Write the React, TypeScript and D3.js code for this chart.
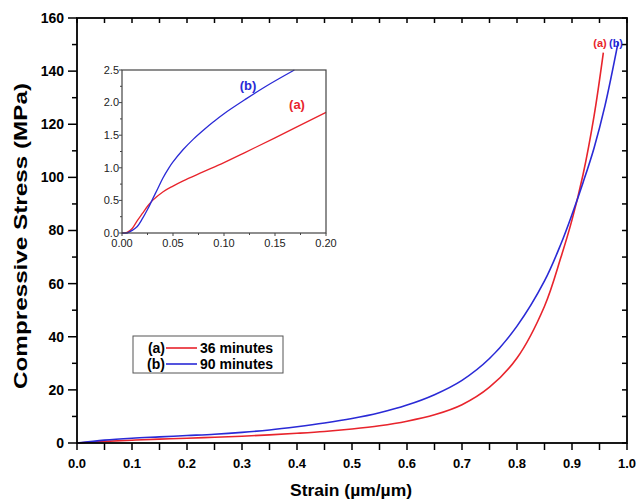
import React from 'react';
import { scaleLinear, line, curveCatmullRom, range } from 'd3';

// main curves
const strainA = [0, 0.05, 0.1, 0.15, 0.2, 0.25, 0.3, 0.35, 0.4, 0.45, 0.5, 0.55, 0.6, 0.65, 0.7, 0.75, 0.8, 0.85, 0.88, 0.9, 0.92, 0.94, 0.957];
const stressA = [0, 0.6, 1.05, 1.45, 1.8, 2.15, 2.55, 3.05, 3.65, 4.35, 5.3, 6.5, 8.2, 10.6, 14.4, 21, 32, 51.5, 70, 84, 101, 123, 147];
const strainB = [0, 0.05, 0.1, 0.15, 0.2, 0.25, 0.3, 0.35, 0.4, 0.45, 0.5, 0.55, 0.6, 0.65, 0.7, 0.75, 0.8, 0.85, 0.88, 0.9, 0.92, 0.94, 0.96, 0.984];
const stressB = [0, 1.1, 1.8, 2.3, 2.8, 3.3, 4.0, 4.9, 6.1, 7.5, 9.2, 11.4, 14.3, 18.2, 23.6, 31.8, 44, 61, 75, 86, 98, 111, 127, 151];

// inset (low strain zoom)
const insetStrainA = [0, 0.005, 0.01, 0.015, 0.02, 0.025, 0.03, 0.04, 0.05, 0.06, 0.08, 0.1, 0.12, 0.15, 0.2];
const insetStressA = [0, 0.01, 0.07, 0.19, 0.3, 0.41, 0.5, 0.63, 0.72, 0.8, 0.94, 1.08, 1.23, 1.46, 1.85];
const insetStrainB = [0, 0.005, 0.01, 0.015, 0.02, 0.025, 0.03, 0.035, 0.04, 0.046, 0.05, 0.06, 0.07, 0.08, 0.09, 0.1, 0.12, 0.14, 0.169];
const insetStressB = [0, 0, 0.04, 0.1, 0.22, 0.36, 0.52, 0.68, 0.84, 1.0, 1.09, 1.28, 1.44, 1.58, 1.71, 1.83, 2.04, 2.24, 2.5];

const legendLabels = ['(a)', '(b)'];
const legendNames = ['36 minutes', '90 minutes'];

const red = '#e8242c';
const blue = '#2a2ad6';
const font = 'Liberation Sans, Arial, sans-serif';

const width = 639;
const height = 502;
const frame = { left: 77, right: 627, top: 18, bottom: 443 };
const inset = { left: 122, right: 326, top: 70, bottom: 233 };

function App() {
	const x = scaleLinear().domain([0, 1]).range([frame.left, frame.right]);
	const y = scaleLinear().domain([0, 160]).range([frame.bottom, frame.top]);
	const ix = scaleLinear().domain([0, 0.2]).range([inset.left, inset.right]);
	const iy = scaleLinear().domain([0, 2.5]).range([inset.bottom, inset.top]);

	const mainLine = (xs: number[], ys: number[]) =>
		line<number>()
			.x((d, i) => x(xs[i]))
			.y((d) => y(d))
			.curve(curveCatmullRom.alpha(0.5))(ys);
	const insetLine = (xs: number[], ys: number[]) =>
		line<number>()
			.x((d, i) => ix(xs[i]))
			.y((d) => iy(d))
			.curve(curveCatmullRom.alpha(0.5))(ys);

	const xMajor = range(0, 11).map((i) => i / 10);
	const xMinor = range(0, 21).map((i) => i / 20);
	const yMajor = range(0, 9).map((i) => i * 20);
	const yMinor = range(0, 17).map((i) => i * 10);

	const ixMajor = range(0, 5).map((i) => i * 0.05);
	const ixMinor = range(0, 9).map((i) => i * 0.025);
	const iyMajor = range(0, 6).map((i) => i * 0.5);
	const iyMinor = range(0, 11).map((i) => i * 0.25);

	return (
		<svg
			width={width}
			height={height}
			style={{ position: 'absolute', left: 0, top: 0, background: '#fff' }}
			fontFamily={font}
		>
			{/* main curves */}
			<path d={mainLine(strainA, stressA) || ''} fill="none" stroke={red} strokeWidth={1.6} />
			<path d={mainLine(strainB, stressB) || ''} fill="none" stroke={blue} strokeWidth={1.6} />

			{/* frame */}
			<rect
				x={frame.left}
				y={frame.top}
				width={frame.right - frame.left}
				height={frame.bottom - frame.top}
				fill="none"
				stroke="#000"
				strokeWidth={1.8}
			/>

			{/* bottom + top ticks */}
			{xMinor.map((t) => (
				<g key={'xm' + t}>
					<line x1={x(t)} x2={x(t)} y1={frame.bottom} y2={frame.bottom + 7} stroke="#000" strokeWidth={1.5} />
					<line x1={x(t)} x2={x(t)} y1={frame.top} y2={frame.top + 5} stroke="#000" strokeWidth={1.5} />
				</g>
			))}
			{xMajor.map((t) => (
				<text
					key={'xl' + t}
					x={x(t)}
					y={468}
					textAnchor="middle"
					fontSize={13}
					fontWeight="bold"
				>
					{t.toFixed(1)}
				</text>
			))}

			{/* left + right ticks */}
			{yMinor.map((t) => (
				<g key={'ym' + t}>
					<line
						x1={frame.left}
						x2={frame.left - (t % 20 === 0 ? 9 : 5)}
						y1={y(t)}
						y2={y(t)}
						stroke="#000"
						strokeWidth={1.5}
					/>
					<line x1={frame.right} x2={frame.right - 5} y1={y(t)} y2={y(t)} stroke="#000" strokeWidth={1.5} />
				</g>
			))}
			{yMajor.map((t) => (
				<text
					key={'yl' + t}
					x={64}
					y={y(t)}
					dy="0.35em"
					textAnchor="end"
					fontSize={14}
					fontWeight="bold"
				>
					{t}
				</text>
			))}

			{/* axis titles */}
			<text
				x={351}
				y={496}
				textAnchor="middle"
				fontSize={16}
				fontWeight="bold"
				textLength={122}
				lengthAdjust="spacingAndGlyphs"
			>
				Strain (µm/µm)
			</text>
			<text
				transform={`translate(27, 236) rotate(-90)`}
				textAnchor="middle"
				fontSize={19}
				fontWeight="bold"
				textLength={306}
				lengthAdjust="spacingAndGlyphs"
			>
				Compressive Stress (MPa)
			</text>

			{/* end labels */}
			<text x={600} y={47} textAnchor="middle" fontSize={11} fontWeight="bold" fill={red}>
				(a)
			</text>
			<text x={616} y={47} textAnchor="middle" fontSize={11} fontWeight="bold" fill={blue}>
				(b)
			</text>

			{/* inset */}
			<path d={insetLine(insetStrainA, insetStressA) || ''} fill="none" stroke={red} strokeWidth={1.3} />
			<path d={insetLine(insetStrainB, insetStressB) || ''} fill="none" stroke={blue} strokeWidth={1.3} />
			<rect
				x={inset.left}
				y={inset.top}
				width={inset.right - inset.left}
				height={inset.bottom - inset.top}
				fill="none"
				stroke="#444"
				strokeWidth={1.2}
			/>
			{ixMinor.map((t, i) => (
				<line
					key={'ixm' + i}
					x1={ix(t)}
					x2={ix(t)}
					y1={inset.bottom}
					y2={inset.bottom + (i % 2 ? 2 : 3)}
					stroke="#444"
				/>
			))}
			{iyMinor.map((t, i) => (
				<line
					key={'iym' + i}
					x1={inset.left}
					x2={inset.left - (i % 2 ? 2 : 3)}
					y1={iy(t)}
					y2={iy(t)}
					stroke="#444"
				/>
			))}
			{ixMajor.map((t) => (
				<text key={'ixl' + t} x={ix(t)} y={247} textAnchor="middle" fontSize={11} fill="#222">
					{t.toFixed(2)}
				</text>
			))}
			{iyMajor.map((t) => (
				<text
					key={'iyl' + t}
					x={inset.left - 3}
					y={iy(t)}
					dy="0.35em"
					textAnchor="end"
					fontSize={11}
					fill="#222"
				>
					{t.toFixed(1)}
				</text>
			))}
			<text x={248} y={90} textAnchor="middle" fontSize={13} fontWeight="bold" fill={blue}>
				(b)
			</text>
			<text x={297} y={109} textAnchor="middle" fontSize={13} fontWeight="bold" fill={red}>
				(a)
			</text>

			{/* legend */}
			<rect x={133} y={336} width={150} height={37} fill="#fff" stroke="#555" strokeWidth={1} />
			{legendLabels.map((lab, i) => (
				<g key={lab} transform={`translate(0, ${348 + i * 16})`}>
					<text x={165} y={0} dy="0.35em" textAnchor="end" fontSize={14} fontWeight="bold">
						{lab}
					</text>
					<line x1={166} x2={197} y1={0} y2={0} stroke={i === 0 ? red : blue} strokeWidth={1.6} />
					<text x={200} y={0} dy="0.35em" fontSize={14} fontWeight="bold">
						{legendNames[i]}
					</text>
				</g>
			))}
		</svg>
	);
}

export default App;
